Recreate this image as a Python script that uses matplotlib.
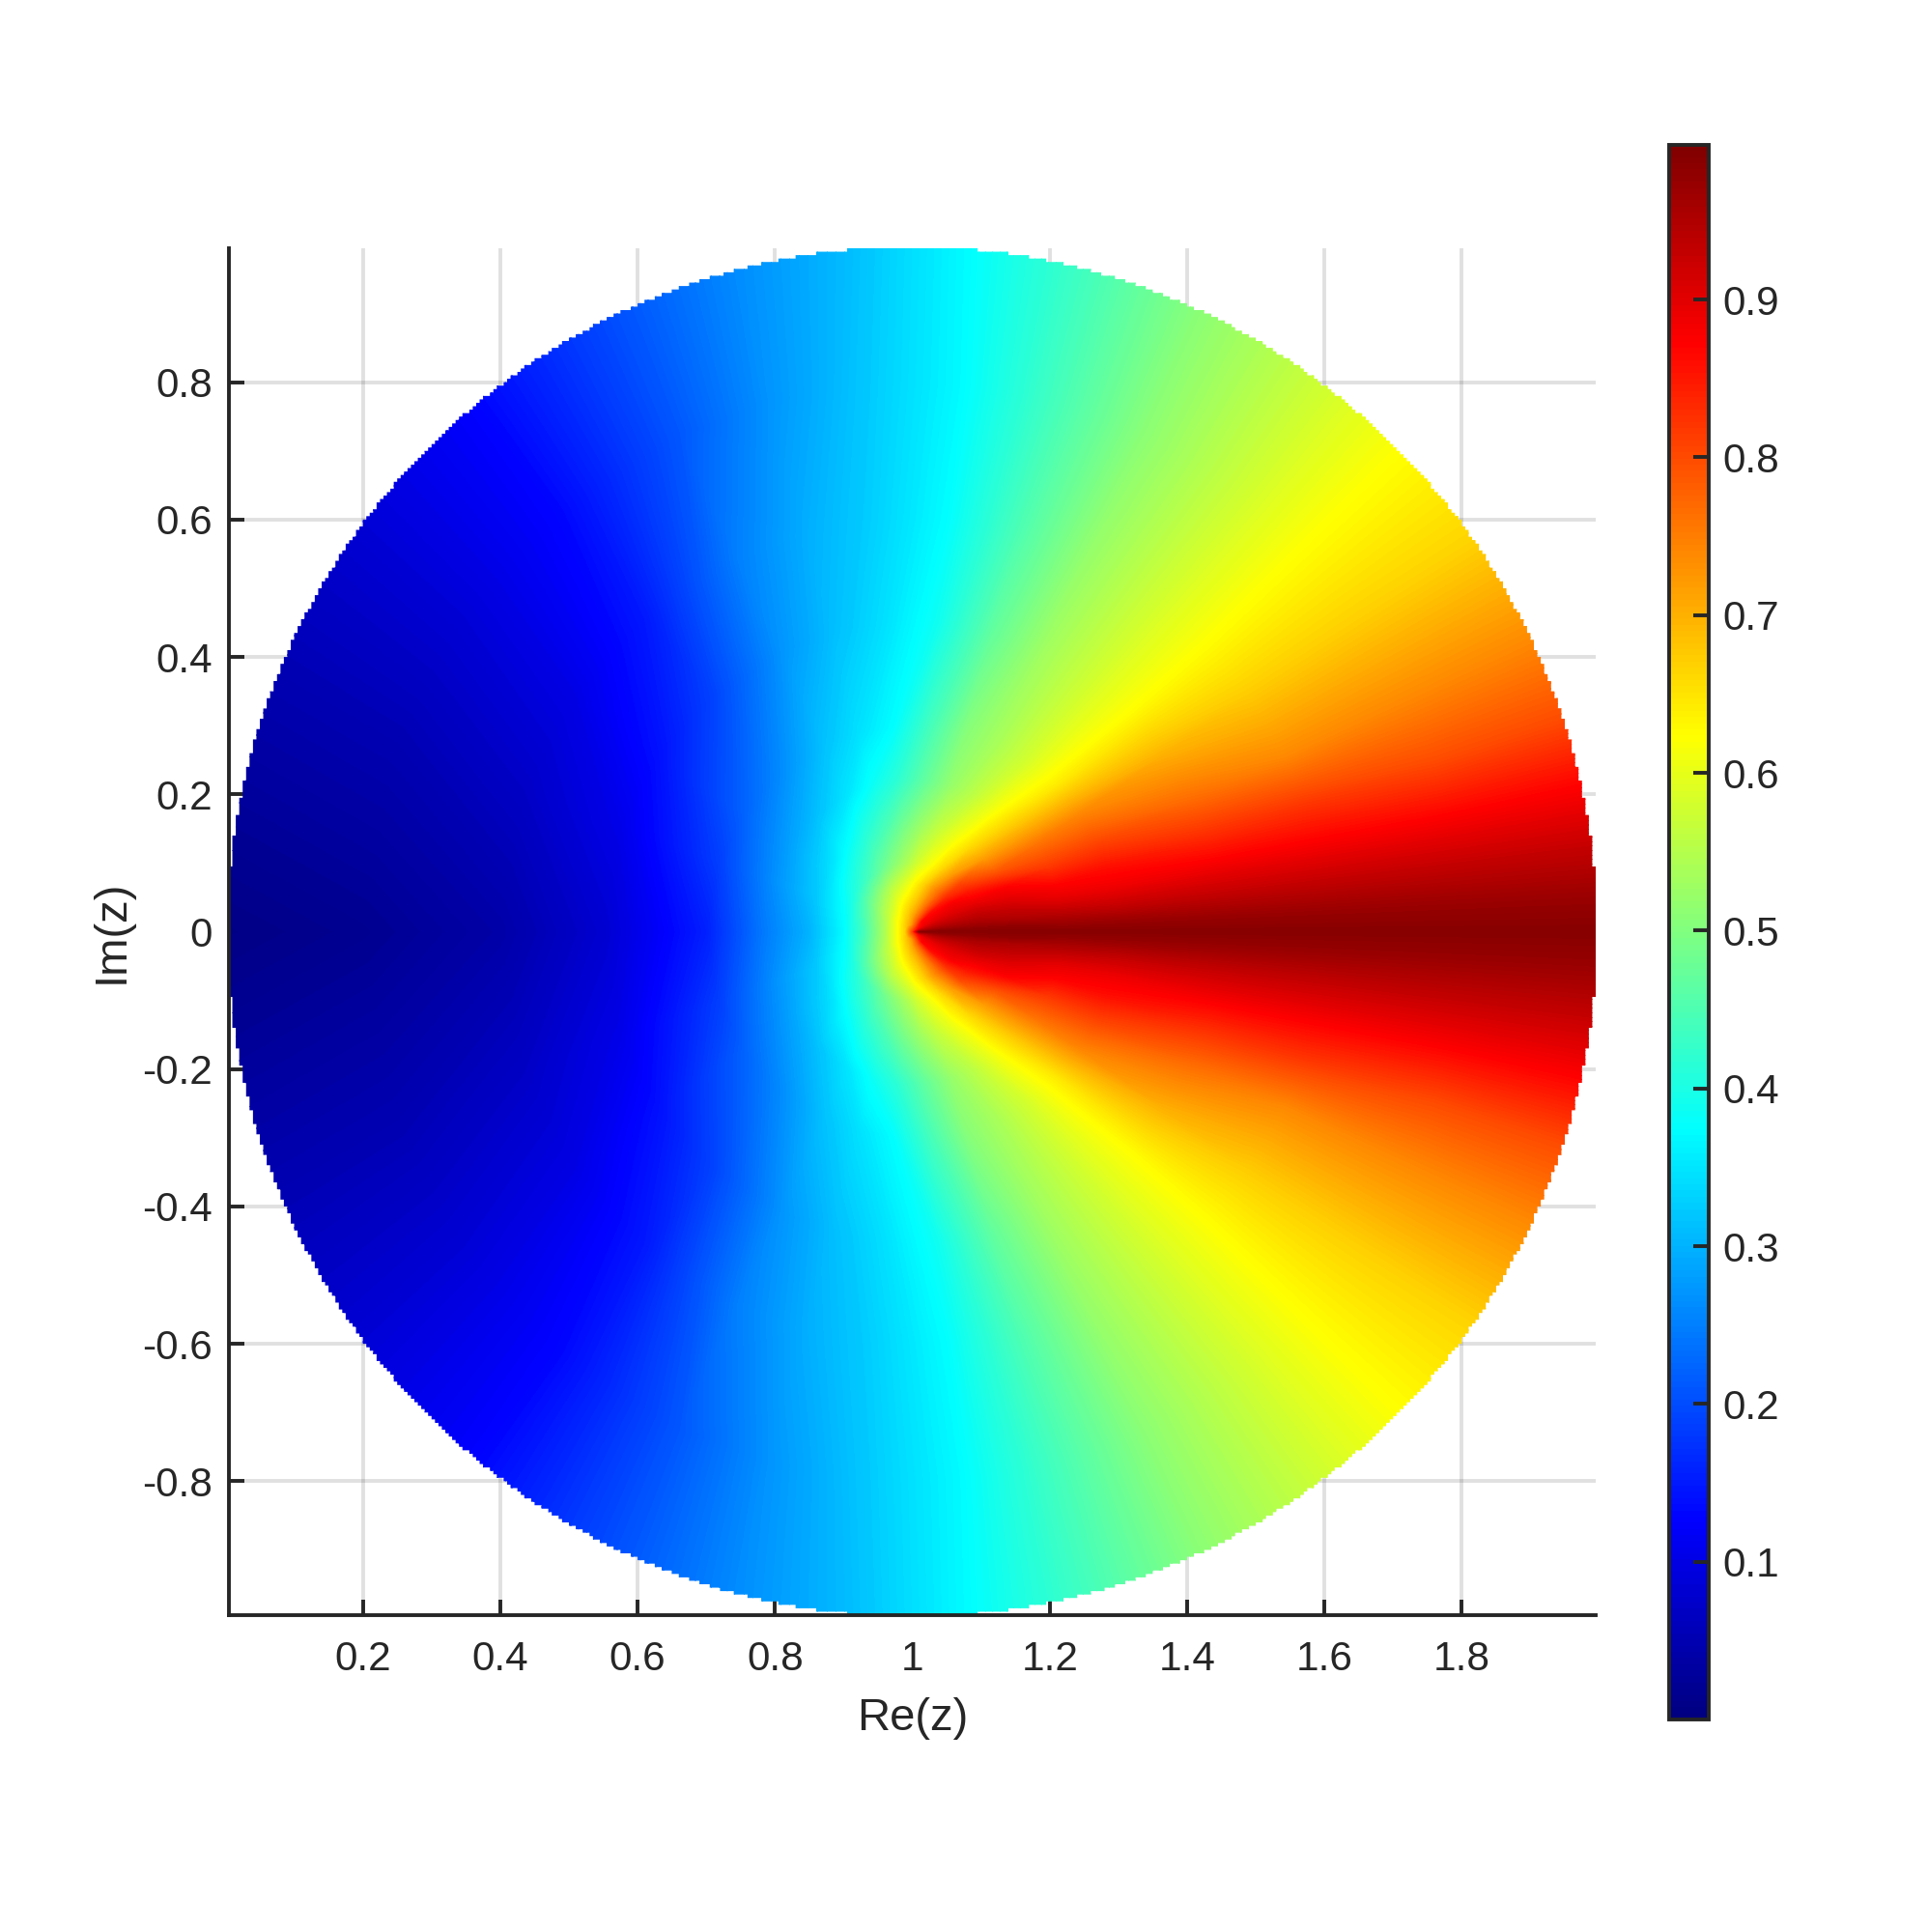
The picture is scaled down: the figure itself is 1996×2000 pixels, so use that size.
import numpy as np
import matplotlib
matplotlib.use("Agg")
import matplotlib.pyplot as plt
from matplotlib.colors import LinearSegmentedColormap
from matplotlib.path import Path

plt.rcParams['font.family'] = ['Liberation Sans', 'DejaVu Sans']
plt.rcParams['axes.unicode_minus'] = False

# values, polar table around z = 1 (upper half, picture is symmetric)
radii = [0.0, 0.01, 0.02, 0.04, 0.07, 0.10, 0.15, 0.22, 0.30, 0.45, 0.60, 0.80, 1.03]
angles = [0, 3, 7, 12, 18, 25, 35, 45, 55, 65, 75, 85, 95, 105, 115, 130, 145, 160, 180]

v_r000 = [.80, .80, .80, .80, .80, .80, .80, .80, .80, .80, .80, .80, .80, .80, .80, .80, .80, .80, .80]
v_r001 = [.99, .97, .95, .92, .89, .87, .85, .83, .80, .78, .76, .74, .72, .71, .70, .69, .68, .67, .67]
v_r002 = [.99, .97, .95, .93, .91, .89, .88, .87, .82, .78, .75, .72, .70, .68, .67, .65, .64, .63, .625]
v_r004 = [.99, .98, .96, .94, .92, .90, .88, .86, .80, .75, .71, .68, .66, .64, .62, .59, .57, .55, .54]
v_r007 = [.99, .98, .96, .94, .92, .90, .88, .83, .77, .72, .67, .635, .60, .575, .555, .52, .49, .46, .44]
v_r010 = [.99, .98, .96, .94, .92, .89, .85, .80, .72, .66, .615, .58, .54, .51, .48, .44, .41, .385, .37]
v_r015 = [.99, .98, .95, .93, .90, .875, .79, .72, .66, .61, .57, .53, .49, .45, .42, .375, .34, .32, .30]
v_r022 = [.99, .97, .94, .90, .87, .82, .76, .68, .615, .56, .52, .47, .42, .385, .35, .31, .28, .26, .24]
v_r030 = [.99, .97, .93, .89, .86, .81, .74, .645, .585, .54, .505, .44, .375, .345, .315, .26, .22, .185, .155]
v_r045 = [.99, .97, .93, .885, .83, .77, .70, .625, .575, .53, .47, .39, .345, .31, .27, .19, .14, .105, .08]
v_r060 = [.99, .97, .93, .88, .82, .74, .675, .62, .57, .52, .45, .375, .33, .295, .25, .15, .10, .07, .04]
v_r080 = [.99, .97, .93, .875, .80, .74, .67, .62, .565, .51, .44, .37, .32, .27, .21, .13, .085, .05, .018]
v_r100 = [.99, .97, .93, .875, .80, .74, .665, .62, .565, .51, .44, .375, .31, .26, .205, .125, .08, .045, .005]

x_ticks = [0.2, 0.4, 0.6, 0.8, 1, 1.2, 1.4, 1.6, 1.8]
y_ticks = [-0.8, -0.6, -0.4, -0.2, 0, 0.2, 0.4, 0.6, 0.8]
cbar_ticks = [0.1, 0.2, 0.3, 0.4, 0.5, 0.6, 0.7, 0.8, 0.9]

upper = np.array([v_r000, v_r001, v_r002, v_r004, v_r007, v_r010, v_r015,
                  v_r022, v_r030, v_r045, v_r060, v_r080, v_r100])
vals = np.hstack([upper[:, :0:-1], upper])
th = np.radians(np.array([-a for a in angles[:0:-1]] + angles))
rr, tt = np.meshgrid(radii, th, indexing='ij')
xx = 1 + rr * np.cos(tt)
yy = rr * np.sin(tt)

# MATLAB jet, matplotlib's own has its knots slightly off
jet = LinearSegmentedColormap.from_list('matlab_jet', [
    (0, (0, 0, 0.5)), (0.125, (0, 0, 1)), (0.375, (0, 1, 1)),
    (0.625, (1, 1, 0)), (0.875, (1, 0, 0)), (1, (0.5, 0, 0))], N=256)

W, H = 1996, 2000
dark = '#262626'
fig = plt.figure(figsize=(W / 200, H / 200), dpi=200)
ax = fig.add_axes([237 / W, 1 - 1672 / H, 1415 / W, 1415 / H])

cs = ax.contourf(xx, yy, vals, levels=np.linspace(0, 0.998, 257), cmap=jet, antialiased=False, zorder=2)

# stair-step edge of the 0.005 sampling grid
step = 0.005
edges = np.arange(-200, 200) * step
outer = np.maximum(np.abs(edges), np.abs(edges + step))
half = np.floor(np.sqrt(np.clip(1 - outer ** 2, 0, None)) / step) * step
right = []
left = []
for e, h in zip(edges, half):
    right += [(1 + h, e), (1 + h, e + step)]
    left += [(1 - h, e), (1 - h, e + step)]
verts = right + left[::-1] + [right[0]]
cs.set_clip_path(Path(verts), ax.transData)

ax.set_xlim(0.005, 1.995)
ax.set_ylim(-0.995, 0.995)
ax.set_xticks(x_ticks)
ax.set_xticklabels(['%g' % t for t in x_ticks])
ax.set_yticks(y_ticks)
ax.set_yticklabels(['%g' % t for t in y_ticks])
ax.spines['top'].set_visible(False)
ax.spines['right'].set_visible(False)
for s in ['left', 'bottom']:
    ax.spines[s].set_linewidth(1.4)
    ax.spines[s].set_color(dark)
ax.tick_params(direction='in', length=5.8, width=1.4, color=dark, labelcolor=dark, labelsize=15.2)
ax.tick_params(axis='x', pad=9.3)
ax.tick_params(axis='y', pad=6.2)
ax.set_axisbelow(True)
ax.grid(True, color='#262626', alpha=0.14, linewidth=1.4)
ax.set_xlabel('Re(z)', fontsize=17, color=dark, labelpad=7)
ax.set_ylabel('Im(z)', fontsize=17, color=dark, labelpad=3.5)

cax = fig.add_axes([1728 / W, 1 - 1780 / H, 41 / W, 1630 / H])
cb = fig.colorbar(cs, cax=cax)
cb.set_ticks(cbar_ticks)
cb.set_ticklabels(['%g' % t for t in cbar_ticks])
cb.outline.set_linewidth(1.4)
cb.outline.set_edgecolor(dark)
cax.tick_params(direction='in', length=5.8, width=1.4, color=dark, labelcolor=dark, labelsize=15.2, pad=5)

fig.savefig('out.png', dpi=200)
